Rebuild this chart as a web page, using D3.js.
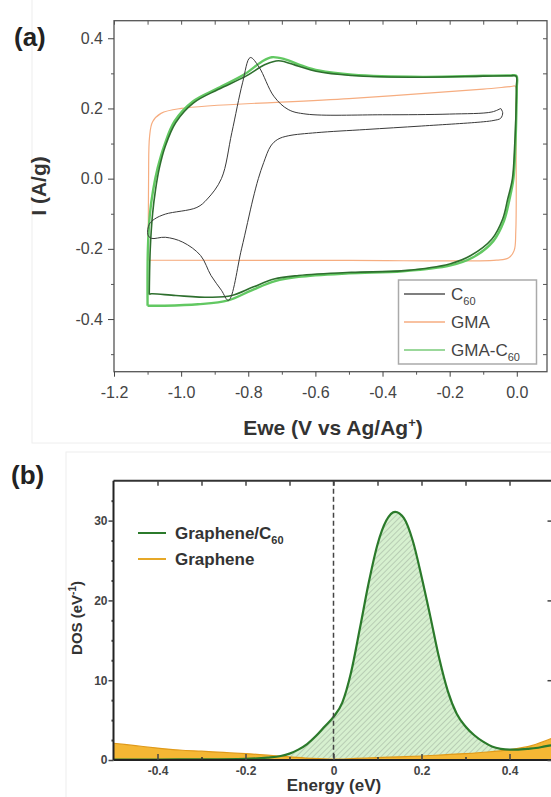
<!DOCTYPE html>
<html>
<head>
<meta charset="utf-8">
<script src="https://cdn.jsdelivr.net/npm/d3@7"></script>
<style>
  body { margin: 0; background: #fff; }
  svg { display: block; font-family: Arial, "Liberation Sans", sans-serif; }
</style>
</head>
<body>
<svg id="chart" width="551" height="797"></svg>
<script>
// ---------- panel (a): cyclic voltammetry, [potential V, current A/g] ----------
var c60Cycle = [[-0.048, 0.200], [-0.042, 0.188], [-0.048, 0.172], [-0.068, 0.166], [-0.10, 0.162],
    [-0.283, 0.150], [-0.45, 0.140], [-0.597, 0.131], [-0.681, 0.122], [-0.712, 0.112],
    [-0.733, 0.093], [-0.754, 0.046], [-0.770, 0.0], [-0.786, -0.058], [-0.82, -0.20],
    [-0.859, -0.347], [-0.88, -0.318], [-0.911, -0.276], [-0.942, -0.219], [-0.995, -0.181],
    [-1.047, -0.167], [-1.089, -0.170], [-1.099, -0.160], [-1.095, -0.130], [-1.079, -0.115],
    [-1.047, -0.101], [-0.953, -0.082], [-0.922, -0.058], [-0.88, 0.0], [-0.849, 0.131],
    [-0.817, 0.273], [-0.794, 0.345], [-0.768, 0.318], [-0.724, 0.235], [-0.681, 0.197],
    [-0.628, 0.184], [-0.40, 0.182], [-0.20, 0.184], [-0.074, 0.190], [-0.048, 0.200]];

var gmaCycle = [[-1.098, -0.232], [-1.097, 0.0], [-1.094, 0.12], [-1.085, 0.162], [-1.06, 0.186],
    [-1.0, 0.200], [-0.5, 0.228], [-0.1, 0.255], [-0.02, 0.262], [-0.004, 0.263],
    [-0.003, 0.2], [-0.003, -0.15], [-0.008, -0.205], [-0.025, -0.226], [-0.06, -0.232],
    [-0.5, -0.233], [-1.098, -0.232]];

var gmaC60Cycle1 = [[-1.095, -0.330], [-1.092, -0.2], [-1.085, -0.1], [-1.076, -0.03], [-1.065, 0.03],
    [-1.047, 0.093], [-1.016, 0.160], [-0.963, 0.216], [-0.89, 0.254], [-0.807, 0.292],
    [-0.75, 0.325], [-0.71, 0.336], [-0.65, 0.320], [-0.598, 0.306], [-0.494, 0.294],
    [-0.283, 0.289], [-0.10, 0.292], [-0.02, 0.293], [-0.002, 0.292], [-0.001, 0.26],
    [-0.002, 0.2], [-0.006, 0.1],
    [-0.013, 0.0], [-0.027, -0.058], [-0.042, -0.115], [-0.074, -0.172], [-0.137, -0.219],
    [-0.20, -0.243], [-0.336, -0.262], [-0.493, -0.267], [-0.65, -0.276], [-0.723, -0.286],
    [-0.786, -0.309], [-0.849, -0.333], [-0.911, -0.338], [-1.016, -0.333], [-1.089, -0.328],
    [-1.095, -0.330]];

var gmaC60Cycle2 = [[-1.10, -0.362], [-1.099, -0.2], [-1.093, -0.1], [-1.083, -0.03], [-1.07, 0.03],
    [-1.05, 0.095], [-1.02, 0.163], [-0.965, 0.220], [-0.89, 0.258], [-0.81, 0.298],
    [-0.76, 0.333], [-0.73, 0.346], [-0.69, 0.340], [-0.64, 0.322], [-0.59, 0.308],
    [-0.49, 0.296], [-0.28, 0.290], [-0.10, 0.293], [-0.02, 0.294], [-0.001, 0.293],
    [0.0, 0.26], [-0.001, 0.2],
    [-0.004, 0.1], [-0.010, 0.0], [-0.022, -0.06], [-0.038, -0.12], [-0.07, -0.178],
    [-0.13, -0.224], [-0.20, -0.248], [-0.34, -0.264], [-0.50, -0.270], [-0.65, -0.280],
    [-0.72, -0.292], [-0.79, -0.318], [-0.86, -0.347], [-0.95, -0.358], [-1.05, -0.362],
    [-1.10, -0.362]];

var cvSeries = ['C60', 'GMA', 'GMA-C60'];
var xTicksA = [-1.2, -1.0, -0.8, -0.6, -0.4, -0.2, 0.0];
var xMinorA = [-1.1, -0.9, -0.7, -0.5, -0.3, -0.1];
var yTicksA = [-0.4, -0.2, 0.0, 0.2, 0.4];
var yMinorA = [-0.5, -0.3, -0.1, 0.1, 0.3];

// ---------- panel (b): density of states ----------
var energyGC = [-0.5, -0.4, -0.3, -0.2, -0.15, -0.12, -0.1, -0.08, -0.06, -0.04, -0.02, 0, 0.02,
    0.04, 0.06, 0.08, 0.1, 0.12, 0.14, 0.16, 0.18, 0.2, 0.22, 0.24, 0.26, 0.28, 0.3, 0.32,
    0.34, 0.36, 0.38, 0.4, 0.42, 0.44, 0.46, 0.48, 0.5];
var dosGC = [0.05, 0.06, 0.08, 0.15, 0.3, 0.5, 0.8, 1.3, 2.0, 3.0, 4.2, 5.4, 7.2,
    11.0, 16.5, 22.2, 27.0, 30.0, 31.1, 30.3, 27.5, 23.0, 18.0, 12.8, 8.6, 5.8, 4.2, 3.1,
    2.3, 1.7, 1.4, 1.3, 1.3, 1.4, 1.5, 1.7, 1.9];
var energyG = [-0.5, -0.45, -0.4, -0.35, -0.3, -0.25, -0.2, -0.15, -0.1, -0.05, 0, 0.05, 0.1,
    0.15, 0.2, 0.25, 0.3, 0.35, 0.4, 0.45, 0.5];
var dosG = [2.1, 1.8, 1.5, 1.25, 1.1, 0.95, 0.8, 0.6, 0.4, 0.2, 0.1, 0.2, 0.3,
    0.4, 0.5, 0.65, 0.8, 1.0, 1.3, 1.8, 2.8];
var xTicksB = [-0.4, -0.2, 0, 0.2, 0.4];
var xMinorB = [-0.3, -0.1, 0.1, 0.3];
var yTicksB = [0, 10, 20, 30];
var yMinorB = [2.5, 5, 7.5, 12.5, 15, 17.5, 22.5, 25, 27.5, 32.5];

var svg = d3.select('#chart');

// faint panel frames from the source figure
svg.append('rect').attr('x', 32).attr('y', -2).attr('width', 530).attr('height', 445)
    .attr('fill', 'none').attr('stroke', '#eeeeee');
svg.append('rect').attr('x', 66).attr('y', 452).attr('width', 500).attr('height', 360)
    .attr('fill', 'none').attr('stroke', '#eeeeee');

function styleAxis(g, size, color, weight) {
    g.attr('font-size', size).attr('font-family', null);
    g.select('.domain').remove();
    g.selectAll('line').attr('stroke', color);
    g.selectAll('text').attr('fill', color).attr('font-weight', weight);
}

// ================= panel (a) =================
var xA = d3.scaleLinear().domain([-1.2, 0.09]).range([114, 547]);
var yA = d3.scaleLinear().domain([-0.55, 0.45]).range([371.7, 20.7]);
var gA = svg.append('g');

var lineA = d3.line()
    .x(function(d) { return xA(d[0]); })
    .y(function(d) { return yA(d[1]); })
    .curve(d3.curveCatmullRom.alpha(0.5));

gA.append('path').attr('d', lineA(gmaCycle))
    .attr('fill', 'none').attr('stroke', '#f6ad80').attr('stroke-width', 1.2);
gA.append('path').attr('d', lineA(gmaC60Cycle2))
    .attr('fill', 'none').attr('stroke', '#62c862').attr('stroke-width', 2.4);
gA.append('path').attr('d', lineA(gmaC60Cycle1))
    .attr('fill', 'none').attr('stroke', '#2e6f2e').attr('stroke-width', 1.6);
gA.append('path').attr('d', lineA(c60Cycle))
    .attr('fill', 'none').attr('stroke', '#3a3a3a').attr('stroke-width', 1);

// frame
gA.append('rect')
    .attr('x', xA(-1.2)).attr('y', yA(0.45))
    .attr('width', xA(0.09) - xA(-1.2)).attr('height', yA(-0.55) - yA(0.45))
    .attr('fill', 'none').attr('stroke', '#555').attr('stroke-width', 1.3);

function fmt1(d) { return d.toFixed(1); }

var axLA = gA.append('g').attr('transform', 'translate(' + xA(-1.2) + ',0)')
    .call(d3.axisLeft(yA).tickValues(yTicksA).tickFormat(fmt1).tickSize(6).tickPadding(5));
styleAxis(axLA, 16, '#444', 'normal');
var axLAm = gA.append('g').attr('transform', 'translate(' + xA(-1.2) + ',0)')
    .call(d3.axisLeft(yA).tickValues(yMinorA).tickFormat('').tickSize(3));
styleAxis(axLAm, 16, '#555', 'normal');

var axBA = gA.append('g').attr('transform', 'translate(0,' + yA(-0.55) + ')')
    .call(d3.axisBottom(xA).tickValues(xTicksA).tickFormat(fmt1).tickSize(5).tickPadding(10));
styleAxis(axBA, 16, '#444', 'normal');
var axBAm = gA.append('g').attr('transform', 'translate(0,' + yA(-0.55) + ')')
    .call(d3.axisBottom(xA).tickValues(xMinorA).tickFormat('').tickSize(3));
styleAxis(axBAm, 16, '#555', 'normal');

var axTA = gA.append('g').attr('transform', 'translate(0,' + yA(0.45) + ')')
    .call(d3.axisTop(xA).tickValues(xTicksA.concat(xMinorA)).tickFormat('').tickSize(-4));
styleAxis(axTA, 16, '#555', 'normal');
var axRA = gA.append('g').attr('transform', 'translate(' + xA(0.09) + ',0)')
    .call(d3.axisRight(yA).tickValues(yTicksA.concat(yMinorA)).tickFormat('').tickSize(-4));
styleAxis(axRA, 16, '#555', 'normal');

// axis titles
gA.append('text').attr('x', 14).attr('y', 46)
    .attr('font-size', 26).attr('font-weight', 'bold').attr('fill', '#222').text('(a)');
gA.append('text')
    .attr('transform', 'translate(46,186) rotate(-90)')
    .attr('text-anchor', 'middle').attr('font-size', 21).attr('font-weight', 'bold').attr('fill', '#333')
    .text('I (A/g)');
var xTitleA = gA.append('text').attr('x', 333).attr('y', 435)
    .attr('text-anchor', 'middle').attr('font-size', 21).attr('font-weight', 'bold').attr('fill', '#333');
xTitleA.append('tspan').text('Ewe (V vs Ag/Ag');
xTitleA.append('tspan').attr('dy', -8).attr('font-size', 13).text('+');
xTitleA.append('tspan').attr('dy', 8).text(')');

// legend
var legA = gA.append('g');
legA.append('rect').attr('x', 398.5).attr('y', 280).attr('width', 138).attr('height', 84)
    .attr('fill', '#fff').attr('stroke', '#aaa').attr('stroke-width', 1.5);
var legColorsA = ['#555', '#f6ad80', '#7acb7a'];
cvSeries.forEach(function(name, i) {
    var ly = 294 + i * 28;
    legA.append('line').attr('x1', 404).attr('x2', 445).attr('y1', ly).attr('y2', ly)
        .attr('stroke', legColorsA[i]).attr('stroke-width', 1.5);
    var t = legA.append('text').attr('x', 451).attr('y', ly + 6)
        .attr('font-size', 17).attr('fill', '#444');
    var parts = name.split('60');
    if (parts.length > 1) {
        t.append('tspan').text(parts[0]);
        t.append('tspan').attr('dy', 5).attr('font-size', 11).text('60');
    } else {
        t.text(name);
    }
});

// ================= panel (b) =================
var xB = d3.scaleLinear().domain([-0.5, 0.5]).range([113.5, 553.5]);
var yB = d3.scaleLinear().domain([0, 35]).range([760, 480.7]);
var gB = svg.append('g');

var defs = svg.append('defs');
var pat = defs.append('pattern').attr('id', 'hatch')
    .attr('patternUnits', 'userSpaceOnUse').attr('width', 4).attr('height', 4)
    .attr('patternTransform', 'rotate(45)');
pat.append('rect').attr('width', 4).attr('height', 4).attr('fill', '#d6f0cf');
pat.append('line').attr('x1', 0).attr('y1', 0).attr('x2', 0).attr('y2', 4)
    .attr('stroke', '#9aaa9a').attr('stroke-width', 1);

var gcData = energyGC.map(function(e, i) { return [e, dosGC[i]]; });
var gData = energyG.map(function(e, i) { return [e, dosG[i]]; });

var areaB = d3.area()
    .x(function(d) { return xB(d[0]); })
    .y0(yB(0))
    .y1(function(d) { return yB(d[1]); })
    .curve(d3.curveMonotoneX);
var lineB = d3.line()
    .x(function(d) { return xB(d[0]); })
    .y(function(d) { return yB(d[1]); })
    .curve(d3.curveMonotoneX);

gB.append('path').attr('d', areaB(gcData)).attr('fill', 'url(#hatch)');
gB.append('path').attr('d', areaB(gData)).attr('fill', '#f5b734');
gB.append('path').attr('d', lineB(gData))
    .attr('fill', 'none').attr('stroke', '#e09a1a').attr('stroke-width', 1.2);
gB.append('path').attr('d', lineB(gcData))
    .attr('fill', 'none').attr('stroke', '#2b7a2b').attr('stroke-width', 2.2);

// Fermi level
gB.append('line').attr('x1', xB(0)).attr('x2', xB(0)).attr('y1', yB(35)).attr('y2', yB(0))
    .attr('stroke', '#444').attr('stroke-width', 1.5).attr('stroke-dasharray', '5,3');

// frame
gB.append('line').attr('x1', xB(-0.5)).attr('x2', xB(0.5)).attr('y1', yB(35)).attr('y2', yB(35))
    .attr('stroke', '#333').attr('stroke-width', 2);
gB.append('line').attr('x1', xB(-0.5)).attr('x2', xB(0.5)).attr('y1', yB(0)).attr('y2', yB(0))
    .attr('stroke', '#222').attr('stroke-width', 2);
gB.append('line').attr('x1', xB(-0.5)).attr('x2', xB(-0.5)).attr('y1', yB(35)).attr('y2', yB(0))
    .attr('stroke', '#222').attr('stroke-width', 2);
gB.append('line').attr('x1', xB(0.5)).attr('x2', xB(0.5)).attr('y1', yB(35)).attr('y2', yB(0))
    .attr('stroke', '#222').attr('stroke-width', 2);

function fmtE(d) { return d === 0 ? '0' : d.toFixed(1); }

var axLB = gB.append('g').attr('transform', 'translate(' + xB(-0.5) + ',0)')
    .call(d3.axisLeft(yB).tickValues(yTicksB).tickSize(5).tickPadding(1));
styleAxis(axLB, 12, '#444', 'bold');
axLB.selectAll('line').attr('stroke-width', 1.5);
var axLBm = gB.append('g').attr('transform', 'translate(' + xB(-0.5) + ',0)')
    .call(d3.axisLeft(yB).tickValues(yMinorB).tickFormat('').tickSize(2));
styleAxis(axLBm, 12, '#333', 'normal');
axLBm.selectAll('line').attr('stroke-width', 2);

var axBB = gB.append('g').attr('transform', 'translate(0,' + yB(0) + ')')
    .call(d3.axisBottom(xB).tickValues(xTicksB).tickFormat(fmtE).tickSizeInner(-6).tickPadding(6));
styleAxis(axBB, 12, '#444', 'bold');
axBB.selectAll('line').attr('stroke-width', 1.5);
var axBBm = gB.append('g').attr('transform', 'translate(0,' + yB(0) + ')')
    .call(d3.axisBottom(xB).tickValues(xMinorB).tickFormat('').tickSizeInner(-3));
styleAxis(axBBm, 12, '#333', 'normal');
axBBm.selectAll('line').attr('stroke-width', 1.5);

var axTB = gB.append('g').attr('transform', 'translate(0,' + yB(35) + ')')
    .call(d3.axisTop(xB).tickValues(xTicksB.concat(xMinorB)).tickFormat('').tickSize(-5));
styleAxis(axTB, 12, '#444', 'normal');
axTB.selectAll('line').attr('stroke-width', 1.5);
var axRB = gB.append('g').attr('transform', 'translate(' + xB(0.5) + ',0)')
    .call(d3.axisRight(yB).tickValues(yTicksB).tickFormat('').tickSize(-6));
styleAxis(axRB, 12, '#444', 'normal');
axRB.selectAll('line').attr('stroke-width', 1.5);

// titles
gB.append('text').attr('x', 11).attr('y', 484)
    .attr('font-size', 26).attr('font-weight', 'bold').attr('fill', '#222').text('(b)');
var yTitleB = gB.append('text')
    .attr('transform', 'translate(82,618) rotate(-90)')
    .attr('text-anchor', 'middle').attr('font-size', 15).attr('font-weight', 'bold').attr('fill', '#333');
yTitleB.append('tspan').text('DOS (eV');
yTitleB.append('tspan').attr('dy', -6).attr('font-size', 10).text('-1');
yTitleB.append('tspan').attr('dy', 6).text(')');
gB.append('text').attr('x', 334).attr('y', 791)
    .attr('text-anchor', 'middle').attr('font-size', 17).attr('font-weight', 'bold').attr('fill', '#333')
    .text('Energy (eV)');

// legend
var legB = gB.append('g');
legB.append('line').attr('x1', 138).attr('x2', 166).attr('y1', 533).attr('y2', 533)
    .attr('stroke', '#2b7a2b').attr('stroke-width', 2);
var t1 = legB.append('text').attr('x', 175).attr('y', 539)
    .attr('font-size', 17).attr('font-weight', 'bold').attr('fill', '#333');
t1.append('tspan').text('Graphene/C');
t1.append('tspan').attr('dy', 5).attr('font-size', 11).text('60');
legB.append('line').attr('x1', 138).attr('x2', 166).attr('y1', 559).attr('y2', 559)
    .attr('stroke', '#e6a828').attr('stroke-width', 2);
legB.append('text').attr('x', 175).attr('y', 565)
    .attr('font-size', 17).attr('font-weight', 'bold').attr('fill', '#333').text('Graphene');
</script>
</body>
</html>
